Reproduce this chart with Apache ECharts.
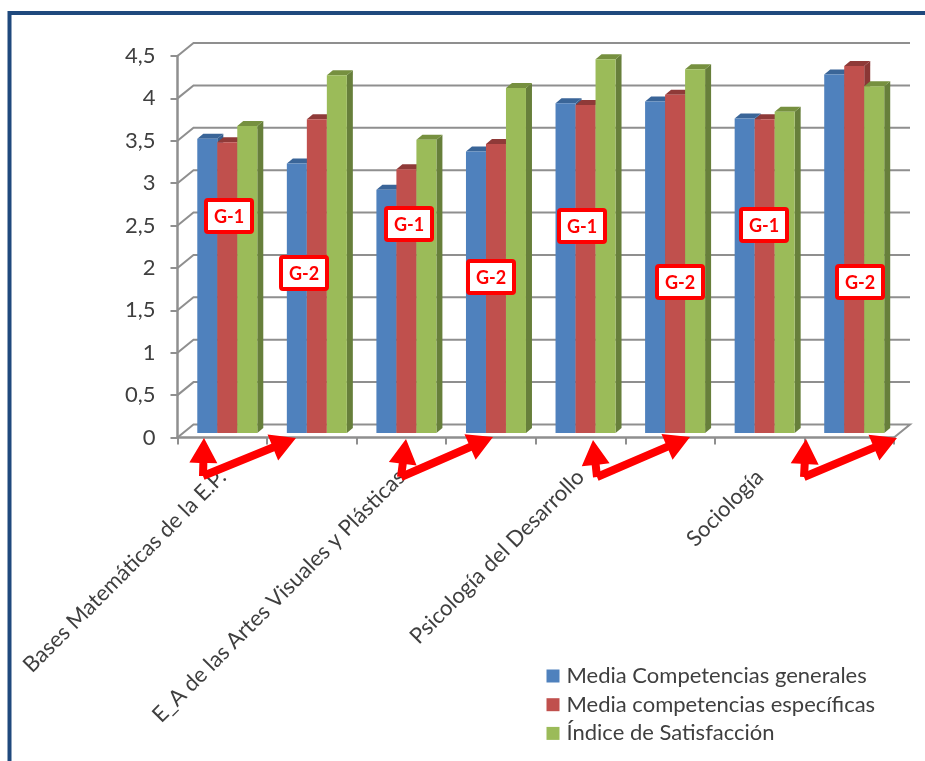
<!DOCTYPE html>
<html>
<head>
<meta charset="utf-8">
<style>html,body{margin:0;padding:0;background:#fff}#c{width:925px;height:761px}</style>
<script src="https://cdn.jsdelivr.net/npm/echarts@6/dist/echarts.min.js"></script>
</head>
<body>
<div id="c"></div>
<script>
const categories = [
  'Bases Matemáticas de la E.P.', 'Bases Matemáticas de la E.P.',
  'E_A de las Artes Visuales y Plásticas', 'E_A de las Artes Visuales y Plásticas',
  'Psicología del Desarrollo', 'Psicología del Desarrollo',
  'Sociología', 'Sociología'
];
const mediaGenerales   = [3.47, 3.18, 2.87, 3.32, 3.89, 3.91, 3.71, 4.23];
const mediaEspecificas = [3.43, 3.70, 3.11, 3.41, 3.87, 3.99, 3.70, 4.33];
const indiceSatisf     = [3.62, 4.22, 3.46, 4.07, 4.41, 4.29, 3.79, 4.09];
const yTicks = [0, 0.5, 1, 1.5, 2, 2.5, 3, 3.5, 4, 4.5];
const seriesNames = ['Media Competencias generales', 'Media competencias específicas', 'Índice de Satisfacción'];
const groupLabels = ['G-1', 'G-2', 'G-1', 'G-2', 'G-1', 'G-2', 'G-1', 'G-2'];

// hand-drawn overlay (callouts), in page pixels
const labelCentres = [[229,216],[304,273],[409,224],[491,277],[582,226],[680,282],[764,225],[860,282]];
const arrowCorners = [[203,476],[401,477],[597,477],[804,477]];
const arrowUpTips  = [[204,438],[406,439],[593,440],[806,439]];
const arrowFarTips = [[296,438],[493,437],[690,437],[897,438]];

const palette = [
  {front:'#4F81BD', top:'#3A6598', side:'#375F8F'},
  {front:'#C0504D', top:'#8F3A38', side:'#8A3735'},
  {front:'#9BBB59', top:'#76903F', side:'#677F3B'}
];
const DEPTH_X = 16, DEPTH_Y = 13, BAR_W = 20, BAR_SHIFT_X = 5, BAR_SHIFT_Y = 4.5, BAR_DX = 6, BAR_DY = 5;
const WALL = '#8F8F8F';

function barRender(k){
  return function(params, api){
    const i = api.value(0), v = api.value(1);
    const top = api.coord([i, v]), base = api.coord([i, 0]);
    const x = top[0] + BAR_SHIFT_X + (k - 1.5) * BAR_W;
    const yT = top[1] - BAR_SHIFT_Y, yB = base[1] - BAR_SHIFT_Y;
    const c = palette[k];
    return {type:'group', children:[
      {type:'polygon', shape:{points:[[x+BAR_W,yT],[x+BAR_W+BAR_DX,yT-BAR_DY],[x+BAR_W+BAR_DX,yB-BAR_DY],[x+BAR_W,yB]]}, style:{fill:c.side}},
      {type:'polygon', shape:{points:[[x,yT],[x+BAR_DX,yT-BAR_DY],[x+BAR_W+BAR_DX,yT-BAR_DY],[x+BAR_W,yT]]}, style:{fill:c.top}},
      {type:'rect', shape:{x:x, y:yT, width:BAR_W, height:yB-yT}, style:{fill:c.front}}
    ]};
  };
}
function wallRender(params, api){
  const v = api.value(0), cs = params.coordSys;
  const y = api.coord([0, v])[1], x1 = cs.x, x2 = cs.x + cs.width;
  const pts = [[x1,y],[x1+DEPTH_X,y-DEPTH_Y],[x2+DEPTH_X,y-DEPTH_Y]];
  if (v === 0) pts.push([x2,y]);
  return {type:'polyline', shape:{points:pts}, style:{stroke:WALL, lineWidth:2, fill:null}};
}
const valueSets = [mediaGenerales, mediaEspecificas, indiceSatisf];
const barSeries = seriesNames.map((name,k)=>({
  name, type:'custom', coordinateSystem:'cartesian2d', z:3,
  itemStyle:{color:palette[k].front},
  encode:{x:0,y:1},
  data:valueSets[k].map((v,i)=>[i,v]),
  renderItem:barRender(k)
}));

function arrowPoly(a, b){
  const dx=b[0]-a[0], dy=b[1]-a[1], L=Math.hypot(dx,dy), ux=dx/L, uy=dy/L, nx=-uy, ny=ux;
  const sw=4, hw=14, hl=25;
  const P=(d,s)=>[a[0]+ux*d+nx*s, a[1]+uy*d+ny*s];
  return [P(0,-sw),P(L-hl,-sw),P(L-hl,-hw),P(L,0),P(L-hl,hw),P(L-hl,sw),P(0,sw)];
}
const graphics = [
  {type:'rect', z:0, silent:true, shape:{x:9.5,y:13,width:930,height:760}, style:{fill:'#fff', stroke:'#1F497D', lineWidth:4}}
];
labelCentres.forEach((c,i)=>{
  graphics.push({type:'rect', z:20, shape:{x:c[0]-23,y:c[1]-16,width:46,height:32,r:2}, style:{fill:'#fff',stroke:'#FF0000',lineWidth:4}});
  graphics.push({type:'text', z:21, x:c[0], y:c[1]+1, style:{text:groupLabels[i],fill:'#FF0000',font:'bold 18px Lato, "Open Sans", sans-serif',align:'center',verticalAlign:'middle'}});
});
arrowCorners.forEach((c,i)=>{
  graphics.push({type:'polygon', z:19, shape:{points:arrowPoly(c,arrowUpTips[i])}, style:{fill:'#FF0000'}});
  graphics.push({type:'polygon', z:19, shape:{points:arrowPoly(c,arrowFarTips[i])}, style:{fill:'#FF0000'}});
});

const chart = echarts.init(document.getElementById('c'), null, {renderer:'canvas'});
chart.setOption({
  animation:false,
  backgroundColor:'#fff',
  textStyle:{fontFamily:'Lato, "Open Sans", sans-serif'},
  graphic:graphics,
  grid:{left:177.5, right:31, top:56, bottom:323.5, containLabel:false},
  legend:{
    orient:'vertical', left:541.5, top:660, icon:'rect', itemWidth:13, itemHeight:13, itemGap:6.7,
    data:seriesNames, selectedMode:false,
    textStyle:{fontSize:22, color:'#3F3F3F', fontFamily:'Lato, "Open Sans", sans-serif', padding:[0,0,0,2]}
  },
  xAxis:{
    type:'category', data:categories,
    axisLine:{onZero:true, lineStyle:{color:WALL, width:2.5}},
    axisTick:{show:true, alignWithLabel:false, interval:0, length:7, lineStyle:{color:WALL, width:2}},
    axisLabel:{interval:1, rotate:45, margin:36, fontSize:22, color:'#3F3F3F', hideOverlap:false}
  },
  yAxis:{
    type:'value', min:0, max:4.5, interval:0.5,
    splitLine:{show:false},
    axisLine:{show:true, lineStyle:{color:WALL, width:2.5}},
    axisTick:{show:true, length:7, lineStyle:{color:WALL, width:2}},
    axisLabel:{margin:22, fontSize:22, color:'#3F3F3F', padding:[3,0,0,0], formatter:v=>String(v).replace('.',',')}
  },
  series:[
    {type:'custom', name:'pared', coordinateSystem:'cartesian2d', z:1, silent:true, data:yTicks.map(v=>[v]), encode:{y:0}, renderItem:wallRender}
  ].concat(barSeries)
});
</script>
</body>
</html>
